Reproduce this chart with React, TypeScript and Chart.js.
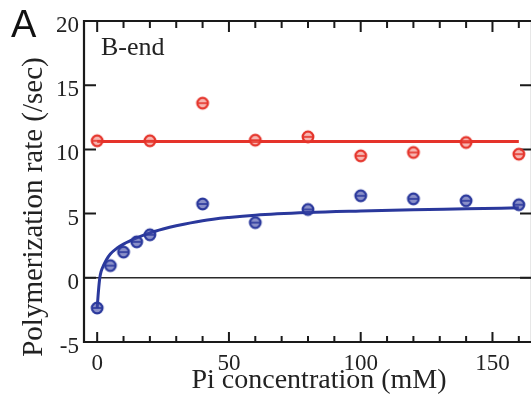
import React, { useEffect, useRef } from "react";
import { Chart, registerables } from "chart.js";

Chart.register(...registerables);

// ---- data ----
const redX = [0, 20, 40, 60, 80, 100, 120, 140, 160];
const redY = [10.67, 10.67, 13.6, 10.72, 10.98, 9.5, 9.76, 10.54, 9.63];

const blueX = [0, 5, 10, 15, 20, 40, 60, 80, 100, 120, 140, 160];
const blueY = [-2.35, 0.95, 2.0, 2.8, 3.35, 5.75, 4.3, 5.32, 6.39, 6.15, 6.0, 5.69];

const redFitX = [0, 160];
const redFitY = [10.62, 10.62];

const blueFitX = [0, 0.5, 1, 1.5, 2.5, 3.5, 5, 7.5, 10, 15, 20, 25, 30, 40, 50, 60, 80, 100, 120, 140, 160];
const blueFitY = [-2.35, -1.0, 0.0, 0.5, 1.0, 1.4, 1.85, 2.3, 2.62, 3.1, 3.5, 3.8, 4.05, 4.45, 4.7, 4.88, 5.08, 5.2, 5.3, 5.37, 5.45];

const xTickLabels = [0, 50, 100, 150];
const xMinorTicks = [0, 10, 20, 30, 40, 50, 60, 70, 80, 90, 100, 110, 120, 130, 140, 150, 160];
const yTicks = [-5, 0, 5, 10, 15, 20];

const panelLabel = "A";
const innerLabel = "B-end";
const xTitle = "Pi concentration (mM)";
const yTitle = "Polymerization rate (/sec)";

const RED = "#e5332a";
const BLUE = "#2a389c";
const SERIF = "'Liberation Serif', 'Times New Roman', serif";

function toPts(xs: number[], ys: number[]) {
  return xs.map((x, i) => ({ x, y: ys[i] }));
}

function makeMarker(color: string, fillAlpha: string) {
  const c = document.createElement("canvas");
  c.width = 16;
  c.height = 16;
  const g = c.getContext("2d")!;
  g.beginPath();
  g.arc(8, 8, 5.3, 0, Math.PI * 2);
  g.fillStyle = fillAlpha;
  g.fill();
  g.lineWidth = 2.3;
  g.strokeStyle = color;
  g.stroke();
  g.beginPath();
  g.moveTo(4, 8);
  g.lineTo(12, 8);
  g.lineWidth = 1.6;
  g.stroke();
  return c;
}

const decorPlugin = {
  id: "decor",
  beforeDatasetsDraw(chart: any) {
    const { ctx, chartArea } = chart;
    const xs = chart.scales.x;
    const ys = chart.scales.y;
    const { left, right, top, bottom } = chartArea;
    ctx.save();
    const y0 = ys.getPixelForValue(0);
    ctx.strokeStyle = "#2a2a2a";
    ctx.lineWidth = 1.6;
    ctx.beginPath();
    ctx.moveTo(left, y0);
    ctx.lineTo(right, y0);
    ctx.stroke();
    ctx.strokeStyle = "#1a1a1a";
    ctx.lineWidth = 2.2;
    ctx.beginPath();
    ctx.moveTo(right, top);
    ctx.lineTo(left, top);
    ctx.lineTo(left, bottom);
    ctx.lineTo(right, bottom);
    ctx.lineTo(right, top);
    ctx.stroke();
    ctx.lineWidth = 2;
    xMinorTicks.forEach((v) => {
      const px = xs.getPixelForValue(v);
      const major = v % 50 === 0;
      ctx.beginPath();
      ctx.moveTo(px, bottom);
      ctx.lineTo(px, bottom - (major ? 10 : 6));
      ctx.moveTo(px, top);
      ctx.lineTo(px, top + (major ? 11 : 7));
      ctx.stroke();
    });
    yTicks.forEach((v) => {
      const py = ys.getPixelForValue(v);
      ctx.beginPath();
      ctx.moveTo(left, py);
      ctx.lineTo(left + 12, py);
      ctx.moveTo(right, py);
      ctx.lineTo(right - 12, py);
      ctx.stroke();
    });
    ctx.restore();
  },
  afterDraw(chart: any) {
    const { ctx, chartArea } = chart;
    const xs = chart.scales.x;
    const ys = chart.scales.y;
    ctx.save();
    // tick labels positioned from the library scales
    ctx.fillStyle = "#222";
    ctx.font = "23px " + SERIF;
    ctx.textBaseline = "middle";
    ctx.textAlign = "center";
    xTickLabels.forEach((v) => {
      ctx.fillText(String(v), xs.getPixelForValue(v), chartArea.bottom + 22);
    });
    ctx.textAlign = "right";
    yTicks.forEach((v) => {
      ctx.fillText(String(v), chartArea.left - 5, ys.getPixelForValue(v) + 5);
    });
    // other texts
    ctx.fillStyle = "#111";
    ctx.textBaseline = "alphabetic";
    ctx.textAlign = "left";
    ctx.font = "38px 'Liberation Sans', Arial, sans-serif";
    ctx.fillText(panelLabel, 11, 37);
    ctx.fillStyle = "#222";
    ctx.font = "26px " + SERIF;
    ctx.fillText(innerLabel, 101, 55);
    ctx.textAlign = "center";
    ctx.font = "28px " + SERIF;
    ctx.fillText(xTitle, 319, 388);
    ctx.translate(42, 207);
    ctx.rotate(-Math.PI / 2);
    ctx.font = "29px " + SERIF;
    ctx.fillText(yTitle, 0, 0);
    ctx.restore();
  },
};

export default function App() {
  const ref = useRef<HTMLCanvasElement | null>(null);

  useEffect(() => {
    document.body.style.margin = "0";
    const canvas = ref.current!;
    const redMarker = makeMarker(RED, "rgba(240,110,100,0.5)");
    const blueMarker = makeMarker(BLUE, "rgba(60,70,165,0.6)");

    const chart = new Chart(canvas, {
      type: "scatter",
      data: {
        datasets: [
          {
            label: "red points",
            data: toPts(redX, redY),
            pointStyle: redMarker as any,
            pointRadius: 7,
            order: 0,
          },
          {
            label: "blue points",
            data: toPts(blueX, blueY),
            pointStyle: blueMarker as any,
            pointRadius: 7,
            order: 0,
          },
          {
            label: "red fit",
            data: toPts(redFitX, redFitY),
            showLine: true,
            borderColor: RED,
            borderWidth: 3,
            pointRadius: 0,
            order: 1,
          },
          {
            label: "blue fit",
            data: toPts(blueFitX, blueFitY),
            showLine: true,
            borderColor: BLUE,
            borderWidth: 3,
            pointRadius: 0,
            cubicInterpolationMode: "monotone",
            order: 1,
          },
        ],
      },
      options: {
        responsive: false,
        animation: false,
        devicePixelRatio: 1,
        layout: { padding: { left: 0, top: 21, right: 4, bottom: 0 } },
        plugins: { legend: { display: false }, tooltip: { enabled: false } },
        scales: {
          x: {
            type: "linear",
            min: -5,
            max: 165,
            grid: { display: false },
            border: { display: false },
            ticks: { display: false },
            afterFit: (scale: any) => {
              scale.height = 56;
            },
          },
          y: {
            type: "linear",
            min: -5,
            max: 20,
            grid: { display: false },
            border: { display: false },
            ticks: { display: false },
            afterFit: (scale: any) => {
              scale.width = 84;
            },
          },
        },
      },
      plugins: [decorPlugin],
    });
    return () => chart.destroy();
  }, []);

  return (
    <div style={{ width: 531, height: 398, overflow: "hidden", position: "relative", background: "#fff" }}>
      <canvas ref={ref} width={540} height={398} style={{ display: "block" }} />
    </div>
  );
}
